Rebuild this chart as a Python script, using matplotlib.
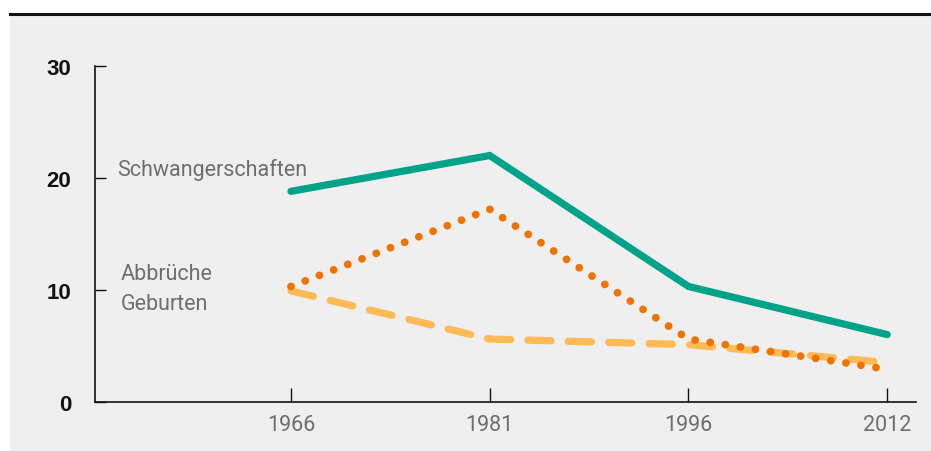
import matplotlib
matplotlib.use('Agg')
import matplotlib.pyplot as plt
from matplotlib.patches import Rectangle
from matplotlib.lines import Line2D

# data
years = ['1966', '1981', '1996', '2012']
schwangerschaften = [18.8, 22.0, 10.3, 6.0]
abbrueche = [10.3, 17.2, 5.6, 2.9]
geburten = [9.9, 5.6, 5.1, 3.5]
y_ticks = [0, 10, 20, 30]

light_font = ['Roboto', 'DejaVu Sans']
bg = '#efefef'
txt_gray = '#6e6e6e'

fig = plt.figure(figsize=(9.31, 4.52), dpi=100)
fig.patch.set_facecolor('white')

# gray panel and black rule on top
fig.patches.append(Rectangle((10 / 931, 0), 1, (452 - 15) / 452,
                             transform=fig.transFigure, facecolor=bg,
                             edgecolor='none', zorder=-5))
fig.lines.append(Line2D([10 / 931, 1], [(452 - 15) / 452] * 2,
                        transform=fig.transFigure, color='#111111', lw=2.2,
                        zorder=-4))

ax = fig.add_axes([95 / 931, (452 - 402.7) / 452,
                   (916 - 95) / 931, (402.7 - 67) / 452])
ax.set_facecolor('none')
ax.set_zorder(1)

x = list(range(len(years)))
ax.plot(x, schwangerschaften, color='#00a389', lw=5.2, solid_capstyle='round',
        solid_joinstyle='miter', zorder=3)
ax.plot(x, geburten, color='#fdba55', lw=5.2, linestyle=(0, (3.2, 2.4)),
        dash_capstyle='round', zorder=2)
ax.plot(x, abbrueche, color='#ef7300', lw=5.6, linestyle=(0, (0.01, 1.95)),
        dash_capstyle='round', zorder=4)

ax.set_xlim(-0.986, 3.145)
ax.set_ylim(0, 30)
ax.set_xticks(x)
ax.set_xticklabels(years)
ax.set_yticks(y_ticks)

for s in ['top', 'right']:
    ax.spines[s].set_visible(False)
for s in ['left', 'bottom']:
    ax.spines[s].set_linewidth(1.2)
    ax.spines[s].set_color('#111111')

ax.tick_params(axis='y', direction='in', length=8, width=1, color='#111111',
               pad=17)
ax.tick_params(axis='x', direction='in', length=10, width=1, color='#111111',
               pad=9)
for lab in ax.get_yticklabels():
    lab.set_fontfamily(['Liberation Sans', 'DejaVu Sans'])
    lab.set_fontweight('bold')
    lab.set_fontsize(16)
    lab.set_color('#111111')
for lab in ax.get_xticklabels():
    lab.set_fontfamily(light_font)
    lab.set_fontweight('normal')
    lab.set_fontsize(15.5)
    lab.set_color(txt_gray)

# series labels
fig.text(117 / 931, 1 - 170 / 452, 'Schwangerschaften', family=light_font,
         weight='normal', fontsize=15.5, color=txt_gray, va='center')
fig.text(121 / 931, 1 - 274 / 452, 'Abbrüche', family=light_font,
         weight='normal', fontsize=15.5, color=txt_gray, va='center')
fig.text(121 / 931, 1 - 304 / 452, 'Geburten', family=light_font,
         weight='normal', fontsize=15.5, color=txt_gray, va='center')

fig.savefig('out.png', dpi=100)
